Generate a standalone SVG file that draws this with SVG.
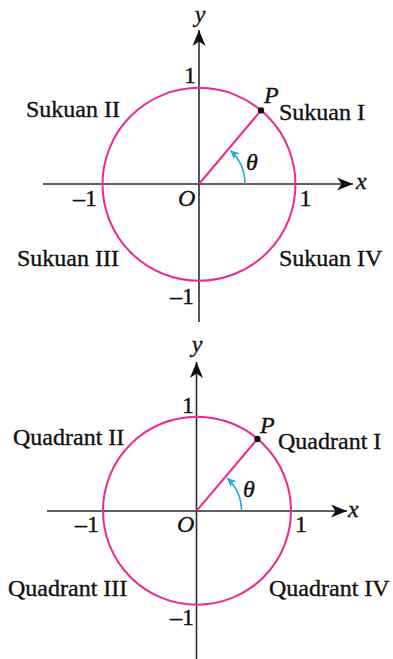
<svg xmlns="http://www.w3.org/2000/svg" width="393" height="659" viewBox="0 0 393 659">
<style>
.ax{stroke:#2b2b2b;stroke-width:1.6;fill:none}
.circ{stroke:#eb2b8e;stroke-width:2;fill:none}
.ray{stroke:#eb2b8e;stroke-width:2}
.ang{stroke:#27a9e1;stroke-width:1.6;fill:none}
text{font-family:"Liberation Serif","Times New Roman",serif;font-size:24px;fill:#111;stroke:#111;stroke-width:0.35}
.it{font-style:italic}
.mid{text-anchor:middle}
</style>
<defs>
<marker id="ah" markerUnits="userSpaceOnUse" markerWidth="18" markerHeight="14" refX="16" refY="7" orient="auto" overflow="visible">
<path d="M16,7 L0,0.5 L4.5,7 L0,13.5 Z" fill="#111"/>
</marker>
<marker id="bh" markerUnits="userSpaceOnUse" markerWidth="10" markerHeight="10" refX="9" refY="5" orient="auto" overflow="visible">
<path d="M9,5 L0,0.5 L2.5,5 L0,9.5 Z" fill="#27a9e1"/>
</marker>
</defs>

<g id="diagram-top">
<g id="connectors-top">
<line class="ax" x1="43" y1="184" x2="353" y2="184" marker-end="url(#ah)"/>
<line class="ax" x1="199" y1="322" x2="199" y2="30" marker-end="url(#ah)"/>
<circle id="unit-circle-top" class="circ" cx="199" cy="184.3" r="96.5"/>
<line class="ray" x1="199" y1="184" x2="261" y2="110.4"/>
<path class="ang" d="M245,184 A46,46 0 0 0 230.4,150.4" marker-end="url(#bh)"/>
</g>
<g id="point-P-top"><circle cx="261" cy="110.4" r="3.2" fill="#111"/><text class="it" x="264" y="103">P</text></g>
<g id="labels-top">
<text class="it mid" x="200" y="22">y</text>
<text class="it" x="356" y="189">x</text>
<text class="it" x="178" y="206">O</text>
<text class="it" x="246" y="170">θ</text>
<text class="mid" x="190" y="83">1</text>
<text class="mid" x="305.5" y="206">1</text>
<text x="73" y="206">–1</text>
<text x="170" y="304">–1</text>
</g>
<g id="sukuan-I"><text x="279" y="120">Sukuan I</text></g>
<g id="sukuan-II"><text x="26" y="117">Sukuan II</text></g>
<g id="sukuan-III"><text x="17" y="266">Sukuan III</text></g>
<g id="sukuan-IV"><text x="279" y="266">Sukuan IV</text></g>
</g>

<g id="diagram-bottom">
<g id="connectors-bottom">
<line class="ax" x1="47" y1="511" x2="347" y2="511" marker-end="url(#ah)"/>
<line class="ax" x1="196.5" y1="659" x2="196.5" y2="362" marker-end="url(#ah)"/>
<circle id="unit-circle-bottom" class="circ" cx="197" cy="510.7" r="94"/>
<line class="ray" x1="196.5" y1="511" x2="257.4" y2="439"/>
<path class="ang" d="M241.5,511 A45,45 0 0 0 227.2,478.1" marker-end="url(#bh)"/>
</g>
<g id="point-P-bottom"><circle cx="257.4" cy="439" r="3.2" fill="#111"/><text class="it" x="260" y="433">P</text></g>
<g id="labels-bottom">
<text class="it mid" x="197" y="352">y</text>
<text class="it" x="348" y="517">x</text>
<text class="it" x="177" y="532">O</text>
<text class="it" x="243" y="497">θ</text>
<text class="mid" x="188" y="413">1</text>
<text class="mid" x="301" y="532">1</text>
<text x="75" y="532">–1</text>
<text x="170" y="625">–1</text>
</g>
<g id="quadrant-I"><text x="278" y="449">Quadrant I</text></g>
<g id="quadrant-II"><text x="13" y="445">Quadrant II</text></g>
<g id="quadrant-III"><text x="8" y="596">Quadrant III</text></g>
<g id="quadrant-IV"><text x="269" y="596">Quadrant IV</text></g>
</g>
</svg>
